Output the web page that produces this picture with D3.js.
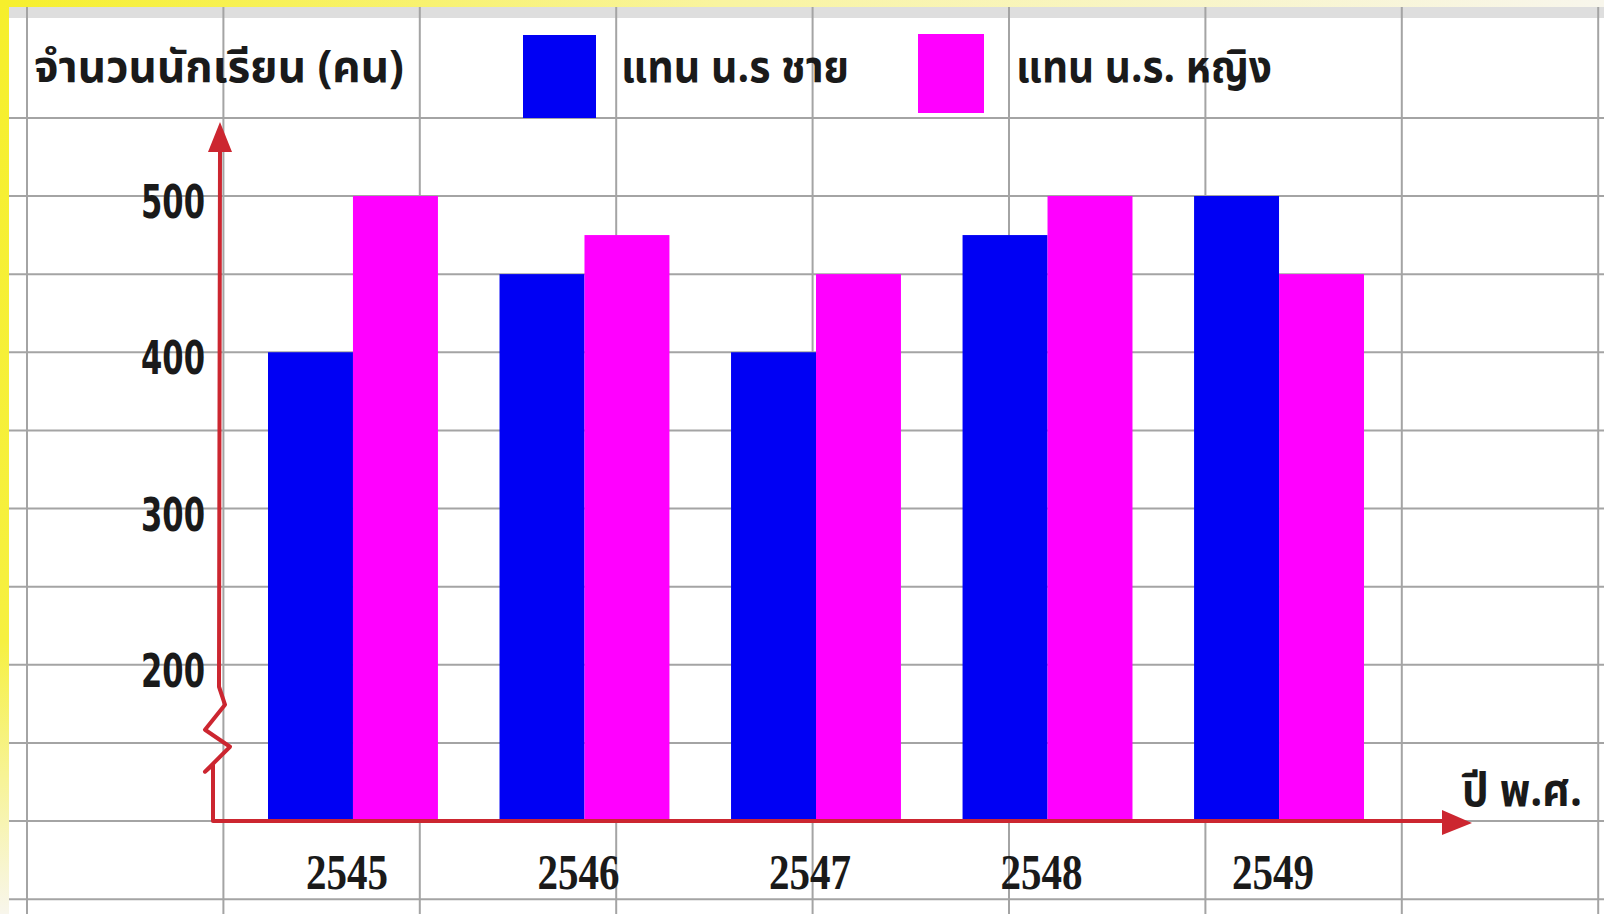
<!DOCTYPE html>
<html>
<head>
<meta charset="utf-8">
<script src="https://cdn.jsdelivr.net/npm/d3@7.9.0/dist/d3.min.js"></script>
<style>
  html, body { margin: 0; padding: 0; background: #fff; }
  svg { display: block; }
</style>
</head>
<body>
<svg id="chart" width="1604" height="914"></svg>
<script>
const years = ['2545', '2546', '2547', '2548', '2549'];
const boys = [400, 450, 400, 475, 500];
const girls = [500, 475, 450, 500, 450];
const yTicks = [200, 300, 400, 500];
const seriesNames = ['แทน น.ร ชาย', 'แทน น.ร. หญิง'];
const seriesColors = ['#0000f4', '#ff00ff'];

const yTitle = 'จำนวนนักเรียน (คน)';
const xTitle = 'ปี พ.ศ.';

const thaiFont = '"Noto Sans Thai", "Noto Sans Thai UI", Loma, Garuda, "Tlwg Typo", Kinnari, "Noto Sans", sans-serif';

const svg = d3.select('#chart');

// scales: baseline of the broken axis sits at 100
const y = d3.scaleLinear().domain([100, 500]).range([821, 196]);
const x = d3.scaleBand().domain(years).range([268, 1364]).paddingInner(0.266).paddingOuter(0);
const xs = d3.scaleBand().domain([0, 1]).range([0, x.bandwidth()]);

// frame (yellow slide border)
const defs = svg.append('defs');
const gTop = defs.append('linearGradient').attr('id', 'gTop');
gTop.append('stop').attr('offset', '0%').attr('stop-color', '#f6ef2c');
gTop.append('stop').attr('offset', '45%').attr('stop-color', '#f9f4a0');
gTop.append('stop').attr('offset', '100%').attr('stop-color', '#f8f6ec');
const gLeft = defs.append('linearGradient').attr('id', 'gLeft')
  .attr('x1', 0).attr('y1', 0).attr('x2', 0).attr('y2', 1);
gLeft.append('stop').attr('offset', '0%').attr('stop-color', '#f6ef2c');
gLeft.append('stop').attr('offset', '70%').attr('stop-color', '#f6f040');
gLeft.append('stop').attr('offset', '100%').attr('stop-color', '#f8f6ec');

svg.append('rect').attr('x', 0).attr('y', 0).attr('width', 1604).attr('height', 914).attr('fill', '#fff');

// spreadsheet grid
const grid = svg.append('g');
grid.append('rect').attr('x', 8).attr('y', 7).attr('width', 1596).attr('height', 11).attr('fill', '#dedede');
const gridVals = d3.range(50, 551, 50);
grid.selectAll('line.h').data(gridVals).join('line')
  .attr('x1', 8).attr('x2', 1604)
  .attr('y1', d => y(d)).attr('y2', d => y(d))
  .attr('stroke', '#a4a4a4').attr('stroke-width', 2);
const colX = d3.range(9).map(i => 27 + i * 196.4);
grid.selectAll('line.v').data(colX).join('line')
  .attr('x1', d => d).attr('x2', d => d)
  .attr('y1', 7).attr('y2', 914)
  .attr('stroke', '#a4a4a4').attr('stroke-width', 2);

svg.append('rect').attr('x', 0).attr('y', 0).attr('width', 1604).attr('height', 7).attr('fill', 'url(#gTop)');
svg.append('rect').attr('x', 0).attr('y', 0).attr('width', 9).attr('height', 914).attr('fill', 'url(#gLeft)');

// bars
const groups = svg.append('g').selectAll('g').data(years).join('g')
  .attr('transform', d => `translate(${x(d)},0)`);
groups.selectAll('rect').data((d, i) => [boys[i], girls[i]]).join('rect')
  .attr('x', (d, j) => xs(j))
  .attr('width', xs.bandwidth())
  .attr('y', d => y(d))
  .attr('height', d => y(100) - y(d))
  .attr('fill', (d, j) => seriesColors[j]);

// axes lines (red arrows)
const red = '#cc2630';
const ax = 218;
const axes = svg.append('g');
axes.append('path')
  .attr('d', `M${ax + 2},${y(500) - 46} L${ax + 1},${y(200) + 22} L${ax + 7},${y(200) + 40} L${ax - 13},${y(200) + 65} L${ax + 12},${y(200) + 82} L${ax - 13},${y(200) + 107} L${ax - 5},${y(200) + 100} L${ax - 5},${y(100)} L1448,${y(100)}`)
  .attr('fill', 'none').attr('stroke', red).attr('stroke-width', 4).attr('stroke-linejoin', 'round');
axes.append('path')
  .attr('d', `M${ax + 2},${y(500) - 74} L${ax - 10},${y(500) - 44} L${ax + 14},${y(500) - 44} Z`)
  .attr('fill', red);
axes.append('path')
  .attr('d', `M1472,${y(100) + 2} L1442,${y(100) - 11} L1442,${y(100) + 14} Z`)
  .attr('fill', red);

// y tick labels
const yAxis = svg.append('g').attr('transform', 'translate(205,0)')
  .call(d3.axisLeft(y).tickValues(yTicks).tickSize(0).tickPadding(0));
yAxis.select('.domain').remove();
yAxis.selectAll('text')
  .attr('x', 0).attr('dy', '0.36em').attr('y', 5)
  .attr('text-anchor', 'end')
  .attr('font-family', '"DejaVu Sans", sans-serif')
  .attr('font-weight', 'bold').attr('font-size', 46)
  .attr('fill', '#1a1a1a')
  .attr('textLength', 64).attr('lengthAdjust', 'spacingAndGlyphs');

// x tick labels
const xAxis = svg.append('g').attr('transform', `translate(0,${y(100)})`)
  .call(d3.axisBottom(x).tickSize(0).tickPadding(0));
xAxis.select('.domain').remove();
xAxis.selectAll('text')
  .attr('x', -6).attr('y', 68).attr('dy', 0)
  .attr('font-family', '"Liberation Serif", serif')
  .attr('font-weight', 'bold').attr('font-size', 50)
  .attr('fill', '#1a1a1a')
  .attr('textLength', 82).attr('lengthAdjust', 'spacingAndGlyphs');

// titles
const txt = (s, x0, y0, w, size) => svg.append('text')
  .attr('x', x0).attr('y', y0).text(s)
  .attr('font-family', thaiFont).attr('font-weight', 'bold').attr('font-size', size)
  .attr('fill', '#1a1a1a')
  .attr('textLength', w).attr('lengthAdjust', 'spacingAndGlyphs');

txt(yTitle, 34, 82, 370, 44);
txt(xTitle, 1462, 806, 120, 46);

// legend
const legendRects = [[523, 35, 73, 83], [918, 34, 66, 79]];
const legendText = [[621, 228], [1016, 256]];
seriesNames.forEach((name, i) => {
  const r = legendRects[i];
  svg.append('rect').attr('x', r[0]).attr('y', r[1]).attr('width', r[2]).attr('height', r[3])
    .attr('fill', seriesColors[i]);
  txt(name, legendText[i][0], 82, legendText[i][1], 44);
});
</script>
</body>
</html>
